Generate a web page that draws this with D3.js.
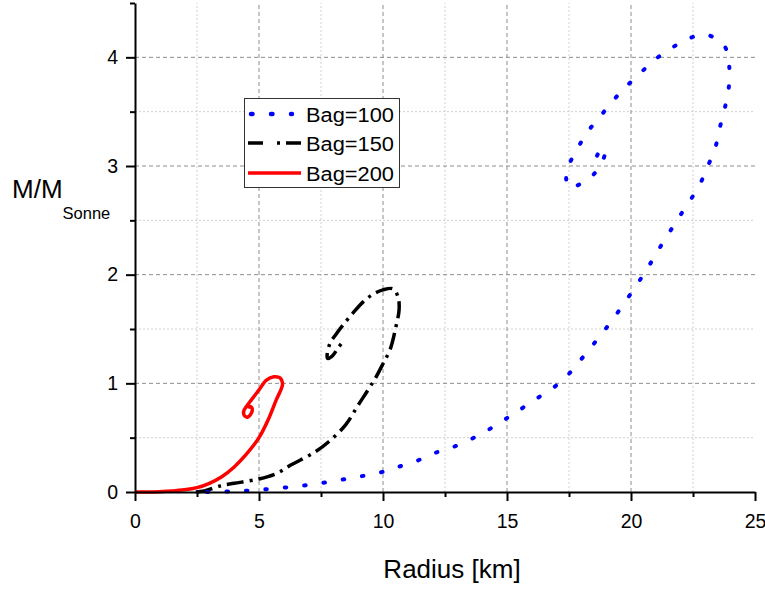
<!DOCTYPE html>
<html><head><meta charset="utf-8">
<script src="https://cdn.jsdelivr.net/npm/d3@7"></script>
<style>
body{margin:0;background:#fff;}
text{font-family:"Liberation Sans",Arial,sans-serif;fill:#000;}
</style></head>
<body><svg id="chart" width="765" height="589"></svg>
<script>
// ---- data ----
const xMajorTicks = [0, 5, 10, 15, 20, 25];
const xMinorTicks = [2.5, 7.5, 12.5, 17.5, 22.5];
const yMajorTicks = [0, 1, 2, 3, 4];
const yMinorTicks = [0.5, 1.5, 2.5, 3.5, 4.5];

const bag100X = [2.9,4,5,6,7,8,9,9.9,10.6,11.4,12.1,12.9,14,15,16,17.2,18.2,19.3,20.5,21.3,22.0,22.75,23.1,23.4,23.6,23.8,23.95,23.95,23.75,23.0,22.3,21.6,20.97,20.4,19.8,19.27,18.7,18.2,17.8,17.4,17.5,18.06,18.6,18.95,18.85,18.6];
const bag100Y = [0,0.006,0.02,0.04,0.065,0.1,0.14,0.18,0.23,0.29,0.36,0.42,0.54,0.68,0.83,1.02,1.28,1.6,2.0,2.3,2.55,2.82,3.0,3.17,3.37,3.55,3.74,3.94,4.11,4.21,4.17,4.08,3.98,3.86,3.73,3.6,3.44,3.3,3.14,2.95,2.8,2.85,2.95,3.12,3.17,3.08];

const bag150X = [2.45,2.8,3.5,4,5,5.7,6.3,7.2,7.8,8.5,9,9.4,9.7,10.0,10.3,10.5,10.65,10.6,10.4,10.0,9.6,9.2,8.8,8.4,8.1,7.85,7.76,7.95,8.2,8.4];
const bag150Y = [0,0.01,0.06,0.08,0.12,0.17,0.25,0.36,0.46,0.62,0.8,0.94,1.05,1.18,1.32,1.5,1.68,1.8,1.87,1.86,1.82,1.75,1.65,1.54,1.45,1.36,1.23,1.25,1.33,1.39];

const bag200X = [0,1,2,2.5,3,3.5,4,4.5,5,5.4,5.7,5.9,5.95,5.85,5.6,5.3,5.0,4.7,4.5,4.38,4.42,4.55,4.7,4.72,4.62,4.55];
const bag200Y = [0,0.002,0.02,0.04,0.08,0.14,0.23,0.35,0.5,0.68,0.85,0.95,1.0,1.05,1.06,1.03,0.94,0.85,0.79,0.74,0.7,0.69,0.73,0.77,0.79,0.77];

const seriesNames = ["Bag=100", "Bag=150", "Bag=200"];
const xLabel = "Radius [km]";
const yLabelMain = "M/M";
const yLabelSub = "Sonne";

// ---- chart ----
const svg = d3.select("#chart");
svg.append("rect").attr("width",765).attr("height",589).attr("fill","#fff");
const x = d3.scaleLinear().domain([0,25]).range([135,755]);
const y = d3.scaleLinear().domain([0,4.5]).range([492,3]);

// grid
const grid = svg.append("g");
grid.selectAll(".gxm").data(xMinorTicks).join("line")
  .attr("x1",d=>x(d)).attr("x2",d=>x(d)).attr("y1",y(0)).attr("y2",y(4.5))
  .attr("stroke","#d0d0d0").attr("stroke-width",1).attr("stroke-dasharray","2,2");
grid.selectAll(".gym").data(yMinorTicks.filter(d=>d<4.5)).join("line")
  .attr("x1",x(0)).attr("x2",x(25)).attr("y1",d=>y(d)).attr("y2",d=>y(d))
  .attr("stroke","#d0d0d0").attr("stroke-width",1).attr("stroke-dasharray","2,2");
grid.selectAll(".gxM").data(xMajorTicks.filter(d=>d>0&&d<25)).join("line")
  .attr("x1",d=>x(d)).attr("x2",d=>x(d)).attr("y1",y(0)).attr("y2",y(4.5))
  .attr("stroke","#8c8c8c").attr("stroke-width",1).attr("stroke-dasharray","4,3");
grid.selectAll(".gyM").data(yMajorTicks.filter(d=>d>0)).join("line")
  .attr("x1",x(0)).attr("x2",x(25)).attr("y1",d=>y(d)).attr("y2",d=>y(d))
  .attr("stroke","#8c8c8c").attr("stroke-width",1).attr("stroke-dasharray","4,3");

// series
const line = d3.line().x(d=>x(d[0])).y(d=>y(d[1])).curve(d3.curveCatmullRom.alpha(0.5));
const zip = (a,b)=>a.map((v,i)=>[v,b[i]]);
svg.append("path").datum(zip(bag200X,bag200Y)).attr("d",line)
  .attr("fill","none").attr("stroke","#ff0000").attr("stroke-width",3.5);
svg.append("path").datum(zip(bag150X,bag150Y)).attr("d",line)
  .attr("fill","none").attr("stroke","#000").attr("stroke-width",3.5)
  .attr("stroke-dasharray","17,6,3,6");
svg.append("path").datum(zip(bag100X,bag100Y)).attr("d",line)
  .attr("fill","none").attr("stroke","#0000ff").attr("stroke-width",4)
  .attr("stroke-linecap","round").attr("stroke-dasharray","1.5,18");

// axes
const fontTick = 19.5;
function styleAxis(g){
  g.select(".domain").attr("stroke","#000").attr("stroke-width",2);
  g.selectAll(".tick line").attr("stroke","#000").attr("stroke-width",2);
  g.selectAll("text").attr("font-size",fontTick).attr("font-family","Liberation Sans, Arial, sans-serif");
}
const gx = svg.append("g").attr("transform",`translate(0,${y(0)})`)
  .call(d3.axisBottom(x).tickValues(xMajorTicks).tickSize(9).tickSizeOuter(0).tickPadding(13).tickFormat(d3.format("d")));
styleAxis(gx);
const gxm = svg.append("g").attr("transform",`translate(0,${y(0)})`)
  .call(d3.axisBottom(x).tickValues(xMinorTicks).tickSize(5).tickSizeOuter(0).tickFormat(""));
styleAxis(gxm); gxm.select(".domain").remove();
const gy = svg.append("g").attr("transform",`translate(${x(0)},0)`)
  .call(d3.axisLeft(y).tickValues(yMajorTicks).tickSize(9).tickSizeOuter(0).tickPadding(8).tickFormat(d3.format("d")));
styleAxis(gy);
const gym = svg.append("g").attr("transform",`translate(${x(0)},0)`)
  .call(d3.axisLeft(y).tickValues(yMinorTicks).tickSize(5).tickSizeOuter(0).tickFormat(""));
styleAxis(gym); gym.select(".domain").remove();

// axis labels
svg.append("text").attr("x",452).attr("y",578).attr("text-anchor","middle")
  .attr("font-size",26).text(xLabel);
const yl = svg.append("text").attr("x",12).attr("y",198).attr("font-size",26);
yl.append("tspan").text(yLabelMain);
yl.append("tspan").attr("dy",21).attr("font-size",16.5).text(yLabelSub);

// legend
const lg = svg.append("g");
lg.append("rect").attr("x",244.5).attr("y",98.5).attr("width",155).attr("height",89)
  .attr("fill","#fff").attr("stroke","#333").attr("stroke-width",1);
const legY = [114,143,173];
const legStyles = [
  {stroke:"#0000ff", w:4.5, dash:"1.5,18.5", cap:"round", x1:251, x2:292},
  {stroke:"#000", w:3.5, dash:"15,14,3,6,15,50", cap:"butt", x1:248, x2:301},
  {stroke:"#ff0000", w:3.5, dash:null, cap:"butt", x1:248, x2:301}
];
seriesNames.forEach((n,i)=>{
  const s = legStyles[i];
  lg.append("line").attr("x1",s.x1).attr("x2",s.x2).attr("y1",legY[i]).attr("y2",legY[i])
    .attr("stroke",s.stroke).attr("stroke-width",s.w).attr("stroke-linecap",s.cap)
    .attr("stroke-dasharray",s.dash);
  lg.append("text").attr("x",306).attr("y",legY[i]+7.5).attr("font-size",20)
    .attr("textLength",88).attr("lengthAdjust","spacingAndGlyphs").text(n);
});
</script></body></html>
